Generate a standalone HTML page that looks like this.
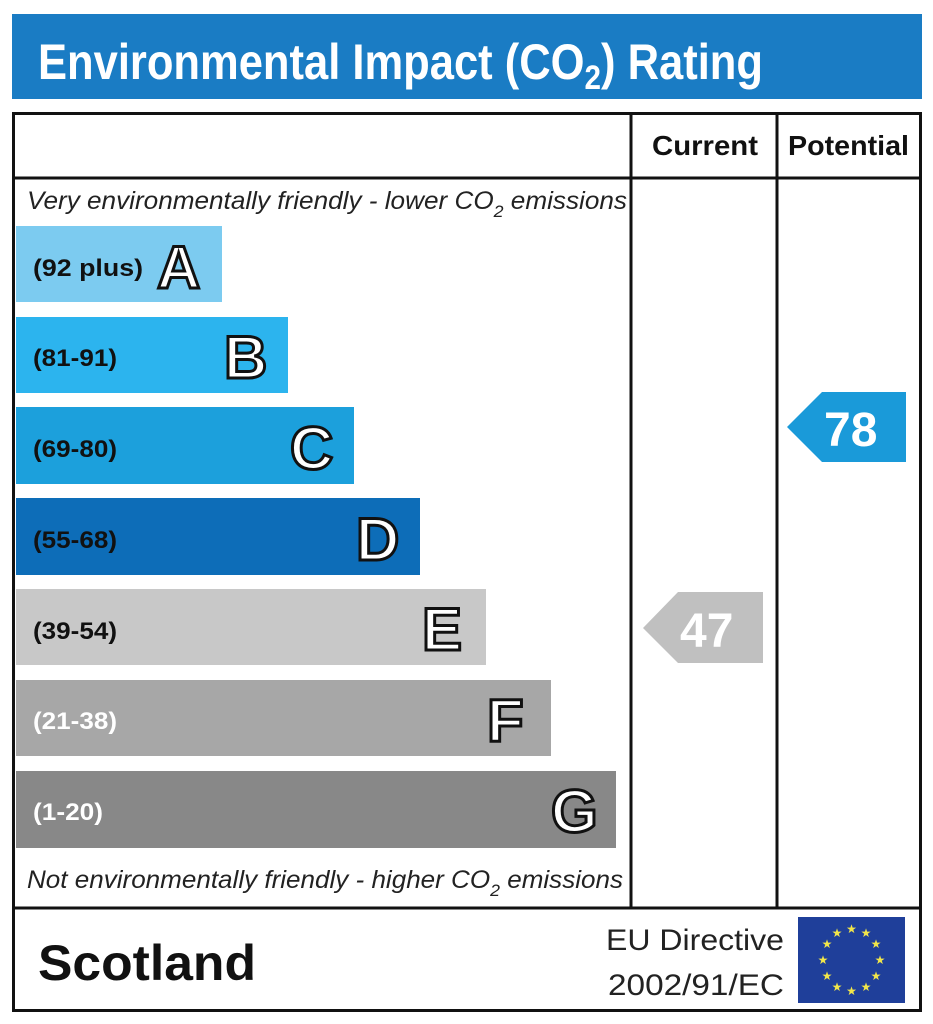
<!DOCTYPE html>
<html><head><meta charset="utf-8"><style>
html,body{margin:0;padding:0;background:#fff;}
svg{display:block;}
text{font-family:"Liberation Sans",Arial,sans-serif;}
</style></head><body>
<svg width="933" height="1024" viewBox="0 0 933 1024" xmlns="http://www.w3.org/2000/svg">
<rect x="12" y="14" width="910" height="85" fill="#1a7cc4"/>
<text x="38" y="79" font-size="50" font-weight="bold" fill="#fff" textLength="725" lengthAdjust="spacingAndGlyphs">Environmental Impact (CO<tspan font-size="34" dy="10">2</tspan><tspan dy="-10">) Rating</tspan></text>

<rect x="13.5" y="113.5" width="907" height="897" fill="none" stroke="#111" stroke-width="3"/>
<line x1="12" y1="178" x2="922" y2="178" stroke="#111" stroke-width="3"/>
<line x1="12" y1="908" x2="922" y2="908" stroke="#111" stroke-width="3"/>
<line x1="631" y1="112" x2="631" y2="908" stroke="#111" stroke-width="3"/>
<line x1="777" y1="112" x2="777" y2="908" stroke="#111" stroke-width="3"/>

<text x="652" y="155" font-size="28" font-weight="bold" fill="#111" textLength="106" lengthAdjust="spacingAndGlyphs">Current</text>
<text x="788" y="155" font-size="28" font-weight="bold" fill="#111" textLength="121" lengthAdjust="spacingAndGlyphs">Potential</text>

<text x="27" y="209" font-size="25" font-style="italic" fill="#222" textLength="600" lengthAdjust="spacingAndGlyphs">Very environmentally friendly - lower CO<tspan font-size="17" dy="8">2</tspan><tspan dy="-8"> emissions</tspan></text>
<text x="27" y="888" font-size="25" font-style="italic" fill="#222" textLength="596" lengthAdjust="spacingAndGlyphs">Not environmentally friendly - higher CO<tspan font-size="17" dy="8">2</tspan><tspan dy="-8"> emissions</tspan></text>

<g font-weight="bold">
<rect x="16" y="226" width="206" height="76" fill="#7ccbf0"/>
<text x="33" y="276" font-size="24" fill="#111" textLength="110" lengthAdjust="spacingAndGlyphs">(92 plus)</text>
<rect x="16" y="317" width="272" height="76" fill="#2cb4ee"/>
<text x="33" y="366" font-size="24" fill="#111" textLength="84" lengthAdjust="spacingAndGlyphs">(81-91)</text>
<rect x="16" y="407" width="338" height="77" fill="#1ca0dc"/>
<text x="33" y="457" font-size="24" fill="#111" textLength="84" lengthAdjust="spacingAndGlyphs">(69-80)</text>
<rect x="16" y="498" width="404" height="77" fill="#0d6db8"/>
<text x="33" y="548" font-size="24" fill="#111" textLength="84" lengthAdjust="spacingAndGlyphs">(55-68)</text>
<rect x="16" y="589" width="470" height="76" fill="#c8c8c8"/>
<text x="33" y="639" font-size="24" fill="#111" textLength="84" lengthAdjust="spacingAndGlyphs">(39-54)</text>
<rect x="16" y="680" width="535" height="76" fill="#a7a7a7"/>
<text x="33" y="729" font-size="24" fill="#fff" textLength="84" lengthAdjust="spacingAndGlyphs">(21-38)</text>
<rect x="16" y="771" width="600" height="77" fill="#888888"/>
<text x="33" y="820" font-size="24" fill="#fff" textLength="70" lengthAdjust="spacingAndGlyphs">(1-20)</text>

<g font-size="60" fill="#fff" stroke="#111" stroke-width="3" lengthAdjust="spacingAndGlyphs">
<text x="157" y="288" textLength="43">A</text>
<text x="224" y="378" textLength="41">B</text>
<text x="290" y="469" textLength="41">C</text>
<text x="356" y="560" textLength="40">D</text>
<text x="422" y="650" textLength="38">E</text>
<text x="487" y="741" textLength="34">F</text>
<text x="551" y="832" textLength="44">G</text>
</g>

<polygon points="787,427 822,392 906,392 906,462 822,462" fill="#1a9ad9"/>
<text x="824" y="446" font-size="48" fill="#fff">78</text>
<polygon points="643,628 678,592 763,592 763,663 678,663" fill="#c0c0c0"/>
<text x="680" y="647" font-size="48" fill="#fff">47</text>
</g>

<text x="38" y="980" font-size="50" font-weight="bold" fill="#111" textLength="218" lengthAdjust="spacingAndGlyphs">Scotland</text>
<text x="606" y="950" font-size="30" fill="#222" textLength="178" lengthAdjust="spacingAndGlyphs">EU Directive</text>
<text x="608" y="995" font-size="30" fill="#222" textLength="176" lengthAdjust="spacingAndGlyphs">2002/91/EC</text>
<rect x="798" y="917" width="107" height="86" fill="#1f3f9a"/>
<g fill="#f2e64a" font-size="12" text-anchor="middle">
<text x="851.5" y="933">★</text><text x="866" y="937">★</text><text x="876" y="948">★</text>
<text x="880" y="964">★</text><text x="876" y="980">★</text><text x="866" y="991">★</text>
<text x="851.5" y="995">★</text><text x="837" y="991">★</text><text x="827" y="980">★</text>
<text x="823" y="964">★</text><text x="827" y="948">★</text><text x="837" y="937">★</text>
</g>
</svg>
</body></html>
